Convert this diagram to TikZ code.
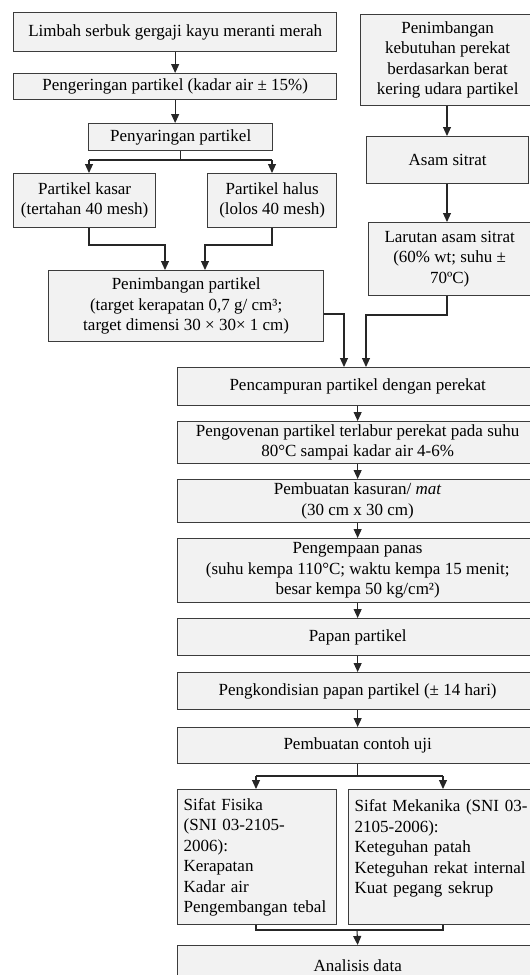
\documentclass[tikz,border=0pt]{standalone}
\usepackage{fontspec}
\setmainfont{Liberation Serif}
\usetikzlibrary{arrows.meta}
\definecolor{boxfill}{HTML}{F2F2F2}
\definecolor{boxline}{HTML}{3C3C3C}
\tikzset{
  box/.style={draw=boxline, fill=boxfill, line width=1.3pt, align=center, inner sep=0pt, anchor=north west, font=\fontsize{17}{20.5}\selectfont},
  lbox/.style={box, align=left, text width=#1},
  conn/.style={draw=black!85, line width=1.1pt},
  arr/.style={conn, -{Triangle[length=9pt,width=8pt]}}
}
\begin{document}
\begin{tikzpicture}[x=1pt,y=-1pt]
\useasboundingbox (0,0) rectangle (530,975);
\clip (0,0) rectangle (530,975);
% left column
\node[box, minimum width=323pt, minimum height=39pt] (b1) at (13,12) {Limbah serbuk gergaji kayu meranti merah};
\node[box, minimum width=323pt, minimum height=26pt] (b2) at (13,73) {Pengeringan partikel (kadar air ± 15\%)};
\node[box, minimum width=184pt, minimum height=27pt] (b3) at (88,123) {Penyaringan partikel};
\node[box, minimum width=142pt, minimum height=54pt] (b4) at (13,173) {Partikel kasar\\(tertahan 40 mesh)};
\node[box, minimum width=129pt, minimum height=54pt] (b5) at (207,173) {Partikel halus\\(lolos 40 mesh)};
\node[box, minimum width=275pt, minimum height=71pt] (b6) at (48,270) {Penimbangan partikel\\(target kerapatan 0,7 g/ cm³;\\target dimensi 30 × 30× 1 cm)};
% right column
\node[box, minimum width=174pt, minimum height=91pt] (r1) at (360,14) {Penimbangan\\kebutuhan perekat\\berdasarkan berat\\kering udara partikel};
\node[box, minimum width=162pt, minimum height=47pt] (r2) at (366,136) {Asam sitrat};
\node[box, minimum width=162pt, minimum height=73pt] (r3) at (368,222) {Larutan asam sitrat\\(60\% wt; suhu ±\\70ºC)};
% main column
\node[box, minimum width=360pt, minimum height=38pt] (b7) at (177,367) {Pencampuran partikel dengan perekat};
\node[box, minimum width=360pt, minimum height=42pt] (b8) at (177,421) {Pengovenan partikel terlabur perekat pada suhu\\80°C sampai kadar air 4-6\%};
\node[box, minimum width=360pt, minimum height=43pt] (b9) at (177,479) {Pembuatan kasuran/ \textit{mat}\\(30 cm x 30 cm)};
\node[box, minimum width=360pt, minimum height=64pt] (b10) at (177,538) {Pengempaan panas\\(suhu kempa 110°C; waktu kempa 15 menit;\\besar kempa 50 kg/cm²)};
\node[box, minimum width=360pt, minimum height=37pt] (b11) at (177,618) {Papan partikel};
\node[box, minimum width=360pt, minimum height=37pt] (b12) at (177,672) {Pengkondisian papan partikel (± 14 hari)};
\node[box, minimum width=360pt, minimum height=36pt] (b13) at (177,727) {Pembuatan contoh uji};
\node[lbox=147pt, inner xsep=6pt, minimum height=135pt] (b14) at (177,789) {Sifat Fisika\\(SNI 03-2105-\\2006):\\Kerapatan\\Kadar air\\Pengembangan tebal};
\node[lbox=180pt, inner xsep=6pt, minimum height=135pt] (b15) at (348,789) {Sifat Mekanika (SNI 03-\\2105-2006):\\Keteguhan patah\\Keteguhan rekat internal\\Kuat pegang sekrup\\\mbox{}};
\node[box, minimum width=360pt, minimum height=40pt] (b16) at (177,945) {Analisis data};
% helper coordinates
\coordinate (s1) at (89,160);
\coordinate (s2) at (272,160);
\coordinate (m1) at (165,245);
\coordinate (m2) at (205,245);
\coordinate (m3) at (344,314);
\coordinate (m4) at (366,315);
\coordinate (rx) at (447,0);
\coordinate (t1) at (256,776);
\coordinate (t2) at (443,776);
\coordinate (u) at (357,930);
% connectors left
\draw[arr] (b1.south) -- (b2.north);
\draw[arr] (b2.south) -- (b2.south |- b3.north);
\draw[conn] (b3.south) -- (b3.south |- s1);
\draw[conn] (s1) -- (s2);
\draw[arr] (s1) -- (s1 |- b4.north);
\draw[arr] (s2) -- (s2 |- b5.north);
\draw[arr] (b4.south -| s1) |- (m1) -- (m1 |- b6.north);
\draw[arr] (b5.south -| s2) |- (m2) -- (m2 |- b6.north);
% connectors right
\draw[arr] (r1.south -| rx) -- (r2.north -| rx);
\draw[arr] (r2.south -| rx) -- (r3.north -| rx);
% merge into b7
\draw[arr] (b6.east |- m3) -- (m3) -- (m3 |- b7.north);
\draw[arr] (r3.south -| rx) |- (m4) -- (m4 |- b7.north);
% main column
\draw[arr] (b7.south) -- (b8.north);
\draw[arr] (b8.south) -- (b9.north);
\draw[arr] (b9.south) -- (b10.north);
\draw[arr] (b10.south) -- (b11.north);
\draw[arr] (b11.south) -- (b12.north);
\draw[arr] (b12.south) -- (b13.north);
\draw[conn] (b13.south) -- (b13.south |- t1);
\draw[conn] (t1) -- (t2);
\draw[arr] (t1) -- (t1 |- b14.north);
\draw[arr] (t2) -- (t2 |- b15.north);
\draw[conn] (b14.south -| t1) -- (t1 |- u) -- (t2 |- u) -- (b15.south -| t2);
\draw[arr] (u) -- (b16.north);
\end{tikzpicture}
\end{document}
